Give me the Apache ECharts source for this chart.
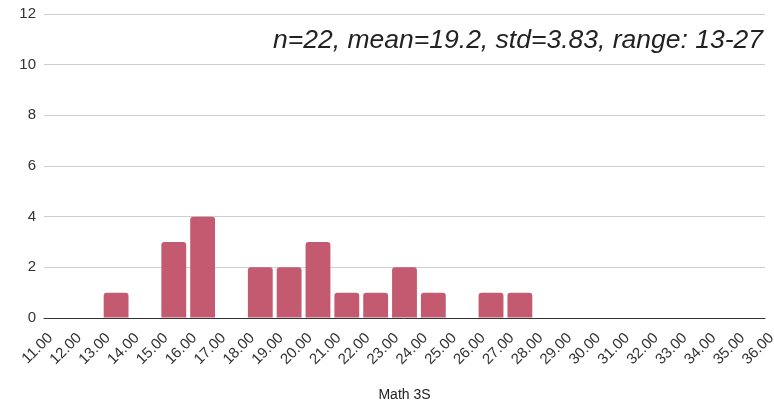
<!DOCTYPE html>
<html>
<head>
<meta charset="utf-8">
<script src="https://cdn.jsdelivr.net/npm/echarts@6/dist/echarts.min.js"></script>
<style>
  html, body { margin: 0; padding: 0; background: #fff; }
  #chart { width: 774px; height: 402px; }
</style>
</head>
<body>
<div id="chart"></div>
<script>
// Histogram of Math 3S scores, bins of width 1
const binStarts = [11, 12, 13, 14, 15, 16, 17, 18, 19, 20, 21, 22, 23, 24, 25, 26, 27, 28, 29, 30, 31, 32, 33, 34, 35];
const binCounts = [0, 0, 1, 0, 3, 4, 0, 2, 2, 3, 1, 1, 2, 1, 0, 1, 1, 0, 0, 0, 0, 0, 0, 0, 0];
const binWidth = 1;
const summaryText = 'n=22, mean=19.2, std=3.83, range: 13-27';
const xAxisName = 'Math 3S';

const FONT = '"Liberation Sans", Arial, sans-serif';
const barData = binStarts.map((s, i) => [s, s + binWidth, binCounts[i]]);

const chart = echarts.init(document.getElementById('chart'), null, { renderer: 'canvas' });

chart.setOption({
  animation: false,
  textStyle: { fontFamily: FONT },
  title: {
    text: summaryText,
    right: 6,
    top: 22,
    textStyle: { fontFamily: FONT, fontSize: 26.5, fontStyle: 'italic', fontWeight: 'normal', color: '#222' }
  },
  grid: { left: 44, right: 9, top: 14, bottom: 84, outerBoundsMode: 'none', containLabel: false },
  xAxis: {
    type: 'value',
    min: 11,
    max: 36,
    interval: 1,
    name: xAxisName,
    nameLocation: 'middle',
    nameGap: 70,
    nameTextStyle: { fontFamily: FONT, fontSize: 14, color: '#222' },
    axisLine: { show: true, lineStyle: { color: '#333', width: 1 } },
    axisTick: { show: false },
    splitLine: { show: false },
    axisLabel: {
      rotate: 45,
      fontFamily: FONT,
      fontSize: 15,
      color: '#333',
      margin: 24,
      padding: [0, -9, 0, 0],
      formatter: v => v.toFixed(2)
    }
  },
  yAxis: {
    type: 'value',
    min: 0,
    max: 12,
    interval: 2,
    axisLine: { show: false },
    axisTick: { show: false },
    axisLabel: { fontFamily: FONT, fontSize: 15, color: '#333', margin: 8 },
    splitLine: { lineStyle: { color: '#cfcfcf', width: 1 } }
  },
  series: [{
    type: 'custom',
    data: barData,
    renderItem: function (params, api) {
      const count = api.value(2);
      if (!count) return null;
      const p0 = api.coord([api.value(0), count]);
      const p1 = api.coord([api.value(1), 0]);
      const gap = 2;
      return {
        type: 'rect',
        shape: {
          x: p0[0] + gap,
          y: p0[1],
          width: p1[0] - p0[0] - gap * 2,
          height: p1[1] - p0[1] - 0.5,
          r: [3, 3, 0, 0]
        },
        style: { fill: '#c35a70' }
      };
    },
    encode: { x: [0, 1], y: 2 }
  }]
});
</script>
</body>
</html>
